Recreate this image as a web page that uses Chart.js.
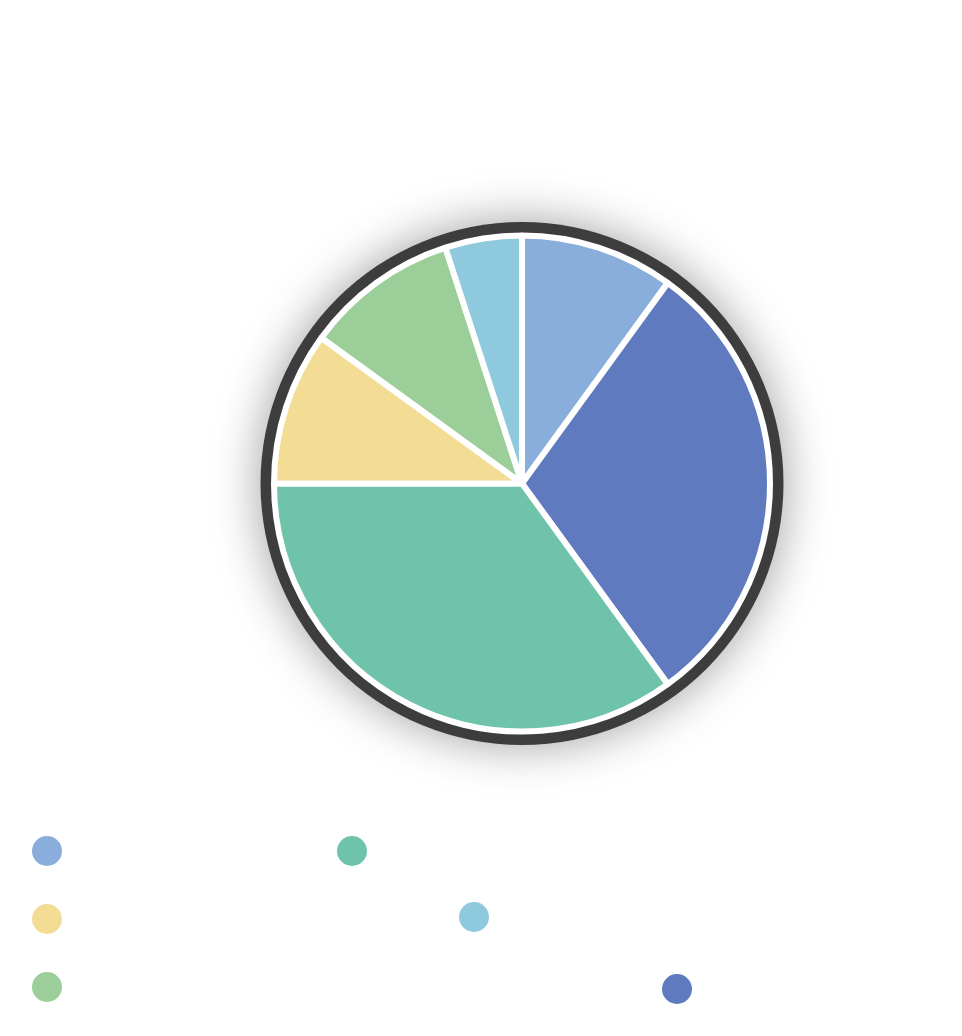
<!DOCTYPE html>
<html>
<head>
<meta charset="utf-8">
<script src="https://cdn.jsdelivr.net/npm/chart.js@4/dist/chart.umd.min.js"></script>
<style>
  html, body { margin: 0; padding: 0; background: #ffffff; width: 962px; height: 1036px; overflow: hidden; font-family: "Open Sans", sans-serif; }
  #wrap { position: absolute; left: 0; top: 0; width: 962px; height: 800px; }
  #legend { position: absolute; left: 0; top: 0; width: 962px; height: 1036px; pointer-events: none; }
  .lg-item { position: absolute; width: 30px; height: 30px; }
  .lg-dot { display: block; width: 30px; height: 30px; border-radius: 50%; }
</style>
</head>
<body>
<div id="wrap"><canvas id="c" width="962" height="800"></canvas></div>
<div id="legend"></div>
<script>
// ---- data ----
const categories = ["Segment A", "Segment B", "Segment C", "Segment D", "Segment E", "Segment F"];
const shares = [10, 30, 35, 10, 10, 5];
const sliceColors = ["#8aaedb", "#5f7abf", "#6fc3ab", "#f3dc94", "#9bce98", "#8fc9de"];
// legend order (index into categories), as shown in the reference
const legendOrder = [0, 2, 3, 5, 4, 1];
// legend layout: centre of each dot, in legend order
const legendCentres = [[47, 851], [352, 851], [47, 919], [474, 917], [47, 987], [677, 989]];

const ringPlugin = {
  id: 'ring',
  beforeDatasetsDraw(chart) {
    const arc = chart.getDatasetMeta(0).data[0];
    if (!arc) return;
    const { x, y, outerRadius } = arc;
    const ctx = chart.ctx;
    ctx.save();
    ctx.beginPath();
    ctx.arc(x, y, outerRadius + 13.5, 0, Math.PI * 2);
    ctx.shadowColor = 'rgba(0,0,0,0.38)';
    ctx.shadowBlur = 48;
    ctx.fillStyle = '#3d3d3d';
    ctx.fill();
    ctx.shadowColor = 'rgba(0,0,0,0)';
    ctx.shadowBlur = 0;
    ctx.beginPath();
    ctx.arc(x, y, outerRadius + 2, 0, Math.PI * 2);
    ctx.fillStyle = '#ffffff';
    ctx.fill();
    ctx.restore();
  }
};

const chart = new Chart(document.getElementById('c'), {
  type: 'pie',
  data: {
    labels: categories,
    datasets: [{
      data: shares,
      backgroundColor: sliceColors,
      borderColor: '#ffffff',
      borderWidth: 6
    }]
  },
  options: {
    responsive: false,
    animation: false,
    devicePixelRatio: 1,
    layout: { padding: { left: 82, right: 0, top: 232.5, bottom: 65.5 } },
    plugins: {
      legend: { display: false },
      tooltip: { enabled: true }
    }
  },
  plugins: [ringPlugin]
});

// ---- HTML legend built from the chart's data ----
const legendEl = document.getElementById('legend');
legendOrder.forEach((idx, i) => {
  const item = document.createElement('div');
  item.className = 'lg-item';
  item.title = categories[idx];
  item.style.left = (legendCentres[i][0] - 15) + 'px';
  item.style.top = (legendCentres[i][1] - 15) + 'px';
  const dot = document.createElement('span');
  dot.className = 'lg-dot';
  dot.style.background = chart.data.datasets[0].backgroundColor[idx];
  item.appendChild(dot);
  legendEl.appendChild(item);
});
</script>
</body>
</html>
